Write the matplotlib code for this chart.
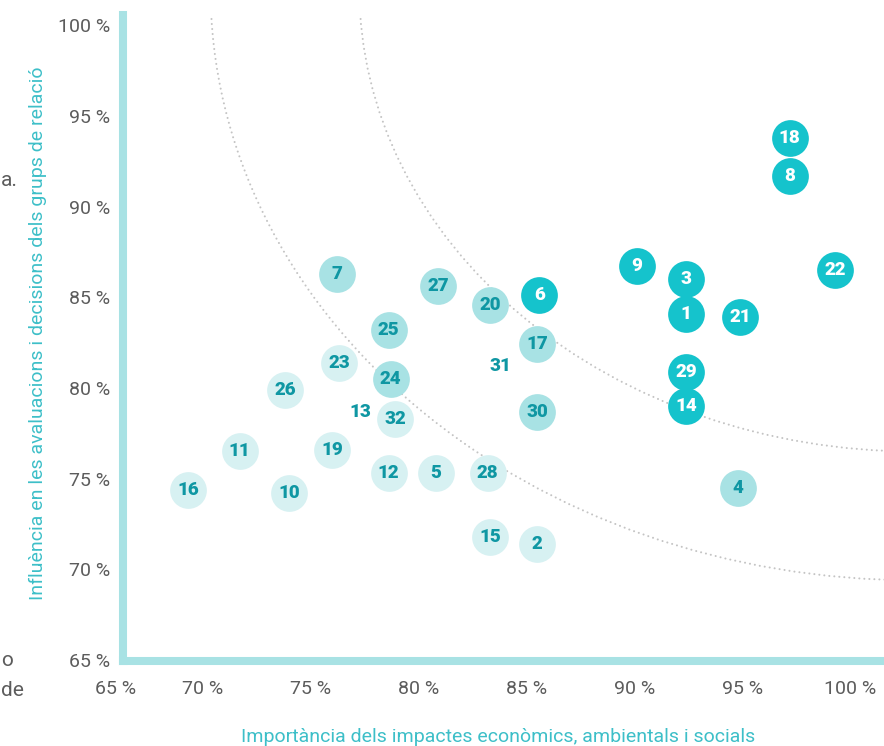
import matplotlib.pyplot as plt
from matplotlib.patches import Arc
from matplotlib.transforms import ScaledTranslation

# punts de la matriu de materialitat
ids = [18, 8, 22, 9, 3, 1, 21, 6, 29, 14,
       4, 7, 27, 20, 17, 25, 24, 30,
       23, 26, 32, 11, 19, 12, 5, 28, 16, 10, 15, 2,
       31, 13]
importancia = [97.2, 97.2, 99.3, 90.1, 92.4, 92.4, 94.9, 85.6, 92.4, 92.4,
               94.8, 76.2, 80.9, 83.3, 85.5, 78.6, 78.7, 85.5,
               76.3, 73.8, 78.9, 71.7, 76.0, 78.6, 80.8, 83.2, 69.3, 74.0, 83.3, 85.5,
               83.8, 77.3]
influencia = [93.8, 91.7, 86.5, 86.7, 86.0, 84.1, 83.9, 85.1, 80.9, 79.0,
              74.5, 86.3, 85.6, 84.6, 82.4, 83.2, 80.5, 78.7,
              81.4, 79.9, 78.3, 76.5, 76.6, 75.3, 75.3, 75.3, 74.4, 74.2, 71.8, 71.4,
              81.2, 78.7]
grup = (['alt'] * 10 + ['mitja'] * 8 + ['baix'] * 12 + ['cap'] * 2)

yticks = [65, 70, 75, 80, 85, 90, 95, 100]
xticks = [70, 75, 80, 85, 90, 95, 100]
tick_labels = ['65 %', '70 %', '75 %', '80 %', '85 %', '90 %', '95 %', '100 %']

fill = {'alt': '#15C3CC', 'mitja': '#A8E2E4', 'baix': '#D7F1F2'}
txt_col = {'alt': 'white', 'mitja': '#0F97A3', 'baix': '#0F97A3', 'cap': '#0F97A3'}
teal = '#3DBFC8'
grey = '#5C5C5C'

plt.rcParams['font.family'] = ['Roboto', 'DejaVu Sans']

fig = plt.figure(figsize=(8.84, 7.46), dpi=100)
ax = fig.add_axes([123 / 884, 1 - 661 / 746, 1 - 123 / 884, (661 - 15) / 746])

x0 = 70 - (203 - 123) / 21.57
ax.set_xlim(x0, 70 + (884 - 203) / 21.57)
ax.set_ylim(64.95, 100.56)

# corbes guia
for w, h in [(65.3, 65.2), (51.5, 51)]:
    arc = Arc((103, 102), w, h, theta1=180, theta2=270, color='#C4C4C4',
              lw=1.5, linestyle=(0, (0.01, 2.4)), zorder=1)
    arc.set_capstyle('round')
    ax.add_patch(arc)

for i, x, y, g in zip(ids, importancia, influencia, grup):
    if g != 'cap':
        ax.scatter(x, y, s=700, color=fill[g], linewidths=0, zorder=3)
    ax.text(x, y, str(i), ha='center', va='center', fontsize=13.5,
            fontweight='black', color=txt_col[g], zorder=4)

for s in ['top', 'right']:
    ax.spines[s].set_visible(False)
for s in ['left', 'bottom']:
    ax.spines[s].set_color('#A8E2E4')
    ax.spines[s].set_linewidth(5.8)

ax.set_yticks(yticks)
ax.set_yticklabels(tick_labels)
ax.set_xticks([x0] + xticks)
ax.set_xticklabels(tick_labels)
ax.tick_params(axis='y', length=0, pad=9, labelsize=14, labelcolor=grey)
ax.tick_params(axis='x', length=0, pad=14, labelsize=14, labelcolor=grey)
first = ax.get_xticklabels()[0]
first.set_transform(first.get_transform() + ScaledTranslation(-7 / 100, 0, fig.dpi_scale_trans))

fig.text(498 / 884, 1 - 737 / 746, 'Importància dels impactes econòmics, ambientals i socials',
         ha='center', va='center', fontsize=14, color=teal)
fig.text(38 / 884, 1 - 333 / 746, 'Influència en les avaluacions i decisions dels grups de relació',
         ha='center', va='center', rotation=90, fontsize=14, color=teal)

# restes de text de la pàgina veïna
fig.text(1 / 884, 1 - 180 / 746, 'a.', ha='left', va='center', fontsize=15, color=grey)
fig.text(1 / 884, 1 - 660 / 746, 'o', ha='left', va='center', fontsize=15, color=grey)
fig.text(1 / 884, 1 - 690 / 746, 'de', ha='left', va='center', fontsize=15, color=grey)

fig.savefig('out.png', dpi=100)
